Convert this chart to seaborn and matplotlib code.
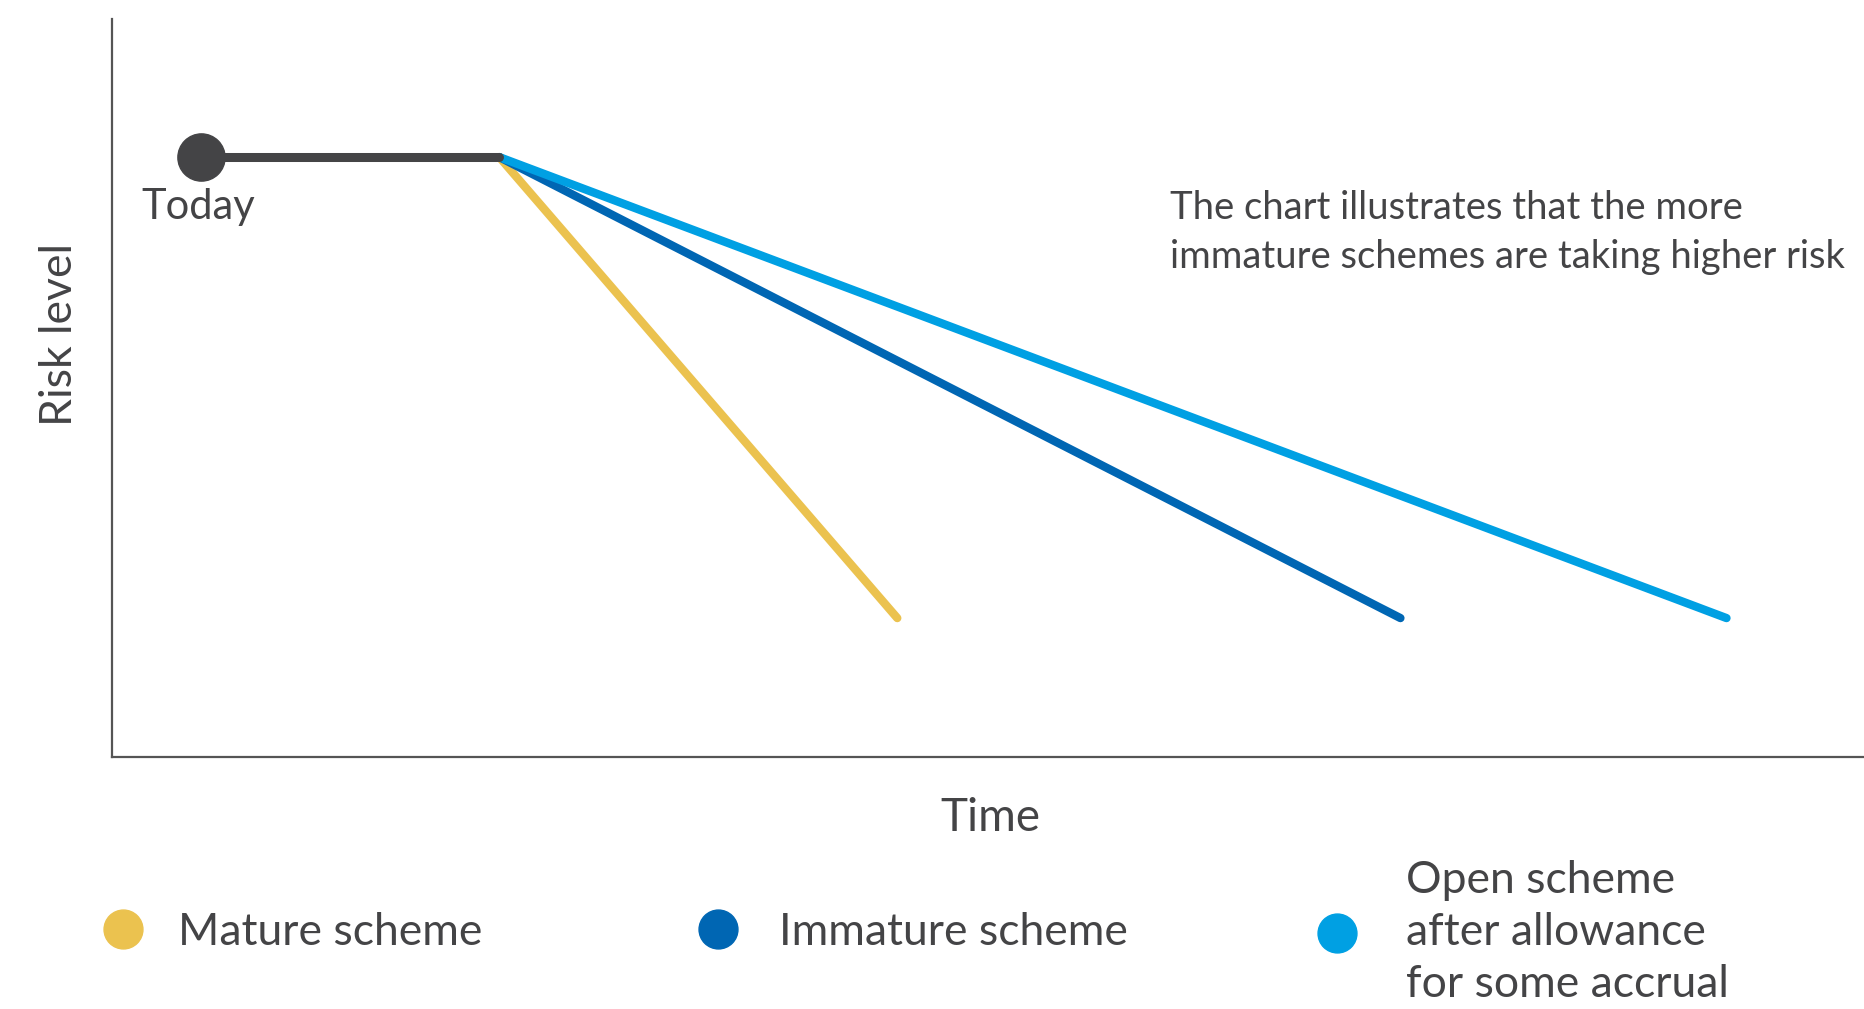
import matplotlib
matplotlib.use("Agg")
import matplotlib.pyplot as plt
from matplotlib.lines import Line2D
import seaborn as sns
import pandas as pd

# Risk path data: everyone starts "today", holds risk flat, then de-risks at a
# pace that depends on scheme maturity.
today_time = 5.1
today_risk = 81.3
branch_time = 22.1
end_risk = 18.8

schemes = ["Mature scheme", "Immature scheme", "Open scheme\nafter allowance\nfor some accrual"]
end_times = [44.8, 73.5, 92.1]
colors = ["#EBC24F", "#0066B3", "#00A0E3"]
dark = "#444446"

rows = []
for name, t_end in zip(schemes, end_times):
    rows.append({"time": branch_time, "risk": today_risk, "scheme": name})
    rows.append({"time": t_end, "risk": end_risk, "scheme": name})
paths = pd.DataFrame(rows)
hold = pd.DataFrame({"time": [today_time, branch_time], "risk": [today_risk, today_risk]})

sns.set_theme(style="white")
plt.rcParams["font.family"] = ["Lato", "DejaVu Sans"]

fig = plt.figure(figsize=(18.65, 10.09), dpi=100)
ax = fig.add_axes([0.060, 0.250, 0.940, 0.731])

sns.lineplot(data=paths, x="time", y="risk", hue="scheme", hue_order=schemes,
             palette=colors, sort=False, estimator=None, linewidth=6,
             solid_capstyle="round", legend=False, ax=ax)
sns.lineplot(data=hold, x="time", y="risk", color=dark, linewidth=6.5,
             solid_capstyle="round", sort=False, estimator=None, ax=ax)
ax.plot([today_time], [today_risk], marker="o", markersize=34, color=dark,
        linestyle="", zorder=5)

ax.annotate("Today", xy=(today_time, today_risk), xytext=(-2, -36),
            textcoords="offset points", ha="center", va="center",
            fontsize=30, color=dark)

ax.text(0.6035, 0.711,
        "The chart illustrates that the more\nimmature schemes are taking higher risk",
        transform=ax.transAxes, ha="left", va="center", fontsize=27.5,
        color=dark, linespacing=1.45)

ax.set_xlim(0, 100)
ax.set_ylim(0, 100)
ax.set_xticks([])
ax.set_yticks([])
for side in ["top", "right"]:
    ax.spines[side].set_visible(False)
for side in ["left", "bottom"]:
    ax.spines[side].set_color("#555555")
    ax.spines[side].set_linewidth(1.6)

ax.set_xlabel("Time", fontsize=33, color=dark)
ax.xaxis.set_label_coords(0.501, -0.055)
ax.set_ylabel("Risk level", fontsize=32, color=dark)
ax.yaxis.set_label_coords(-0.018, 0.573)

# Legend: one entry per scheme, laid out in a row beneath the chart
legend_x = [0.042, 0.361, 0.693]
legend_pad = [0.75, 0.88, 1.05]
for name, col, lx, pad in zip(schemes, colors, legend_x, legend_pad):
    handle = Line2D([], [], marker="o", linestyle="", markersize=28, color=col)
    leg = fig.legend(handles=[handle], labels=[name], loc="center left",
                     bbox_to_anchor=(lx, 0.076), frameon=False,
                     handletextpad=pad, borderpad=0, handlelength=1.0,
                     prop={"size": 32}, labelcolor=dark)
    for t in leg.get_texts():
        t.set_linespacing(1.33)

fig.savefig("out.png", dpi=100)
